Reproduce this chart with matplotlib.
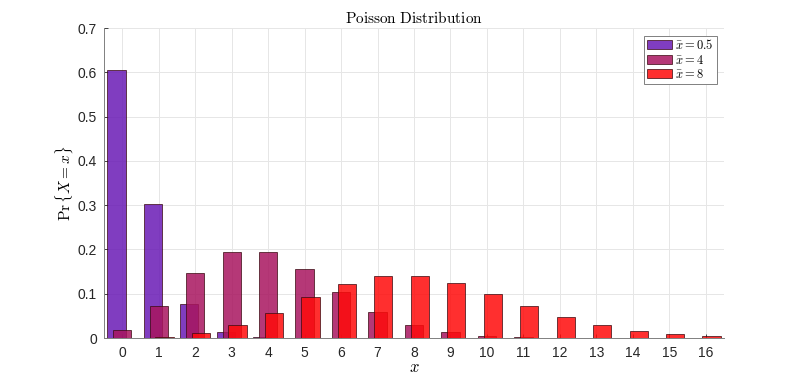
import matplotlib
matplotlib.use("Agg")
import matplotlib.pyplot as plt
import numpy as np

# values
xs = list(range(17))
p_05 = [0.6065, 0.3033, 0.0758, 0.0126, 0.0016, 0.0002, 0.0, 0.0, 0.0, 0.0,
        0.0, 0.0, 0.0, 0.0, 0.0, 0.0, 0.0]
p_4 = [0.0183, 0.0733, 0.1465, 0.1954, 0.1954, 0.1563, 0.1042, 0.0595, 0.0298,
       0.0132, 0.0053, 0.0019, 0.0006, 0.0002, 0.0001, 0.0, 0.0]
p_8 = [0.0003, 0.0027, 0.0107, 0.0286, 0.0573, 0.0916, 0.1221, 0.1396, 0.1396,
       0.1241, 0.0993, 0.0722, 0.0481, 0.0296, 0.0169, 0.0090, 0.0045]
labels = [r'$\bar{x} = 0.5$', r'$\bar{x} = 4$', r'$\bar{x} = 8$']
colors = ['#6a1bb5', '#a8155f', '#ff0a0a']

plt.rcParams['mathtext.fontset'] = 'cm'
plt.rcParams['font.family'] = ['Liberation Sans', 'DejaVu Sans']

fig = plt.figure(figsize=(8, 3.8), dpi=100)
ax = fig.add_axes([0.13, 0.1105, 0.775, 0.8155])

x = np.array(xs)
offsets = [-0.16, 0.0, 0.16]
for series, off, col, lab in zip([p_05, p_4, p_8], offsets, colors, labels):
    ax.bar(x + off, series, width=0.5, color=col, alpha=0.85,
           edgecolor='#3a0a10', linewidth=0.6, label=lab)

ax.set_xlim(-0.5, 16.5)
ax.set_ylim(0, 0.7)
ax.set_xticks(xs)
ax.set_yticks(np.arange(0, 0.71, 0.1))
ax.set_yticklabels(['0', '0.1', '0.2', '0.3', '0.4', '0.5', '0.6', '0.7'])
ax.tick_params(direction='in', length=3, labelsize=10, colors='#262626', width=0.6)
ax.tick_params(axis='x', pad=6)
ax.tick_params(axis='y', pad=5)
ax.grid(True, color='#e6e6e6', linewidth=0.7)
ax.set_axisbelow(True)
for s in ['top', 'right']:
    ax.spines[s].set_visible(False)
for s in ['left', 'bottom']:
    ax.spines[s].set_color('#808080')
    ax.spines[s].set_linewidth(0.7)

ax.set_title(r'$\mathrm{Poisson\ Distribution}$', fontsize=11, pad=4)
ax.set_xlabel(r'$x$', fontsize=12, labelpad=0)
ax.set_ylabel(r'$\Pr\{X = x\}$', fontsize=11, labelpad=2)

leg = ax.legend(loc='upper right', fontsize=9, fancybox=False, framealpha=1,
                edgecolor='#808080', borderpad=0.2, handlelength=2.0,
                handletextpad=0.3, labelspacing=0.12, borderaxespad=0.6)
leg.get_frame().set_linewidth(0.7)

fig.savefig('out.png', dpi=100, facecolor='white')
